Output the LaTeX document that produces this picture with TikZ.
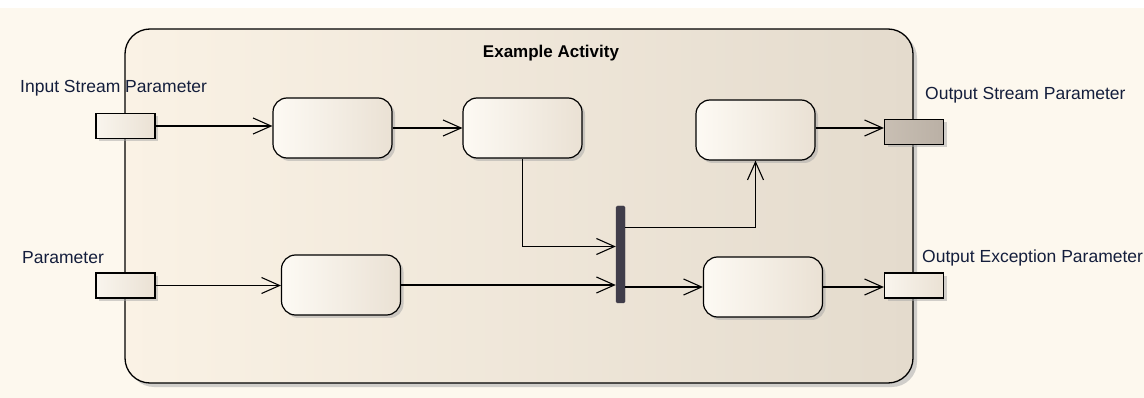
\documentclass[tikz,border=0pt]{standalone}
\usepackage{fontspec}
\setmainfont{Liberation Sans}
\usetikzlibrary{arrows.meta,shadows}
\definecolor{canvascream}{RGB}{253,248,238}
\definecolor{framelight}{RGB}{250,242,229}
\definecolor{framedark}{RGB}{228,219,205}
\definecolor{actionlight}{RGB}{253,250,244}
\definecolor{actiondark}{RGB}{234,225,212}
\definecolor{streamdark}{RGB}{186,176,165}
\definecolor{forkgray}{RGB}{64,61,74}
\definecolor{labelblue}{RGB}{20,30,60}

\begin{document}
\begin{tikzpicture}[x=1pt,y=-1pt,
    action/.style={draw, line width=1.2pt, rounded corners=14pt, minimum width=119pt, minimum height=60pt,
      left color=actionlight, right color=actiondark,
      drop shadow={shadow xshift=3pt, shadow yshift=-3pt, fill=black!35, opacity=0.5}},
    pinbox/.style={draw, line width=1.2pt, minimum width=59pt, minimum height=25pt, inner sep=0pt,
      left color=actionlight!80!actiondark, right color=actiondark,
      drop shadow={shadow xshift=3pt, shadow yshift=-3pt, fill=black!35, opacity=0.5}},
    pinlabel/.style={anchor=west, inner sep=0pt, text=labelblue, font=\fontsize{17.5}{20}\selectfont},
    flow/.style={line width=1.1pt, -{Straight Barb[length=18pt,width=16pt,line width=1.1pt]}}]
  \useasboundingbox (0,0) rectangle (1144,398);
  \fill[white] (0,0) rectangle (1144,398);
  \fill[canvascream] (0,8) rectangle (1144,398);

  % activity frame
  \fill[black!30, opacity=0.6, rounded corners=25pt] (129,33) rectangle (917,387);
  \shade[left color=framelight, right color=framedark, rounded corners=25pt] (125,29) rectangle (913,383);
  \draw[line width=1.3pt, rounded corners=25pt] (125,29) rectangle (913,383);
  \node[font=\bfseries\fontsize{17}{19}\selectfont] (title) at (551,53) {Example Activity};

  % actions
  \node[action] (recv) at (332.5,128) {};
  \node[action] (check) at (522.5,128) {};
  \node[action] (ship) at (755.5,130) {};
  \node[action] (prep) at (341,285) {};
  \node[action] (fail) at (763,287) {};
  \node[draw=forkgray, fill=forkgray, rounded corners=1.5pt, minimum width=9pt, minimum height=97pt,
    inner sep=0pt] (join) at (620.5,254.5) {};

  % parameter pins
  \node[pinbox] (instream) at (125.5,126) {};
  \node[pinbox] (inparam) at (125.5,285.5) {};
  \node[pinbox, left color=streamdark!70!actiondark, right color=streamdark] (outstream) at (914,132) {};
  \node[pinbox] (outexc) at (914,285.5) {};

  \node[pinlabel] (instreamlbl) at (20,88) {Input Stream Parameter};
  \node[pinlabel] (inparamlbl) at (22,258) {Parameter};
  \node[pinlabel] (outstreamlbl) at (925,95) {Output Stream Parameter};
  \node[pinlabel] (outexclbl) at (922,258) {Output Exception Parameter};

  % flows
  \draw[flow] (instream.east) -- (instream.east -| recv.west);
  \draw[flow] (recv.east) -- (check.west);
  \draw[flow] (check.south) |- ([yshift=8pt]join.west);
  \draw[flow] (inparam.east) -- (inparam.east -| prep.west);
  \draw[flow] (prep.east) -- (prep.east -| join.west);
  \draw[flow] ([yshift=27pt]join.east) -| (ship.south);
  \draw[flow] (join.east |- fail.west) -- (fail.west);
  \draw[flow] (ship.east |- check.east) -- (check.east -| outstream.west);
  \draw[flow] (fail.east) -- (fail.east -| outexc.west);
\end{tikzpicture}
\end{document}
